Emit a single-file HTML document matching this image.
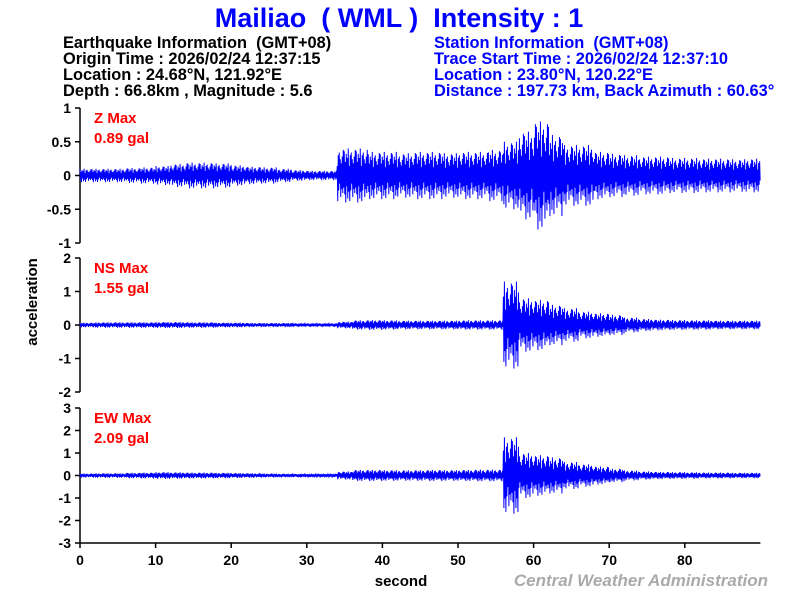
<!DOCTYPE html>
<html><head><meta charset="utf-8">
<style>
body{margin:0;background:#fff;}
svg{display:block;font-family:"Liberation Sans",Arial,sans-serif;}
svg text{white-space:pre;}
.tk{font-size:14px;font-weight:bold;fill:#000;}
.info{font-size:16.4px;font-weight:bold;}
</style></head>
<body>
<svg id="chart" width="800" height="600">
<text x="399" y="27" text-anchor="middle" font-size="27" font-weight="bold" fill="#0000ff">Mailiao  ( WML )  Intensity : 1</text>
<g class="info" fill="#000">
<text x="63" y="48">Earthquake Information  (GMT+08)</text>
<text x="63" y="64">Origin Time : 2026/02/24 12:37:15</text>
<text x="63" y="80">Location : 24.68°N, 121.92°E</text>
<text x="63" y="96">Depth : 66.8km , Magnitude : 5.6</text>
</g>
<g class="info" fill="#0000ff">
<text x="434" y="48">Station Information  (GMT+08)</text>
<text x="434" y="64">Trace Start Time : 2026/02/24 12:37:10</text>
<text x="434" y="80">Location : 23.80°N, 120.22°E</text>
<text x="434" y="96">Distance : 197.73 km, Back Azimuth : 60.63°</text>
</g>
<g id="plots"></g>
<text transform="translate(37,302) rotate(-90)" text-anchor="middle" font-size="15" font-weight="bold">acceleration</text>
<text x="401" y="586" text-anchor="middle" font-size="15" font-weight="bold">second</text>
<text x="768" y="586" text-anchor="end" font-size="17" font-weight="bold" font-style="italic" fill="#aaaaaa">Central Weather Administration</text>
</svg>
<script>
// envelope amplitudes (gal) per 2-second window starting at each time, 0..88 s
const times = [0,2,4,6,8,10,12,14,16,18,20,22,24,26,28,30,32,34,36,38,40,42,44,46,48,50,52,54,56,58,60,62,64,66,68,70,72,74,76,78,80,82,84,86,88];
const zEnv  = [0.1,0.1,0.1,0.11,0.12,0.14,0.17,0.19,0.19,0.18,0.15,0.13,0.12,0.1,0.08,0.07,0.07,0.4,0.4,0.35,0.35,0.33,0.35,0.35,0.33,0.35,0.35,0.38,0.5,0.65,0.8,0.6,0.45,0.45,0.35,0.32,0.3,0.28,0.28,0.26,0.26,0.25,0.25,0.24,0.25];
const nsEnv = [0.07,0.08,0.08,0.08,0.08,0.09,0.09,0.08,0.08,0.07,0.07,0.06,0.06,0.06,0.05,0.05,0.05,0.1,0.14,0.15,0.14,0.13,0.13,0.13,0.13,0.14,0.14,0.14,1.3,0.8,0.75,0.6,0.5,0.4,0.35,0.3,0.22,0.18,0.16,0.15,0.14,0.14,0.13,0.13,0.13];
const ewEnv = [0.09,0.1,0.1,0.12,0.13,0.15,0.14,0.13,0.13,0.12,0.11,0.1,0.09,0.08,0.07,0.06,0.06,0.18,0.25,0.25,0.24,0.23,0.24,0.25,0.24,0.25,0.26,0.26,1.7,1.0,0.9,0.8,0.6,0.5,0.4,0.3,0.22,0.18,0.16,0.15,0.14,0.13,0.13,0.12,0.12];
const zTicks = [1,0.5,0,-0.5,-1];
const nsTicks = [2,1,0,-1,-2];
const ewTicks = [3,2,1,0,-1,-2,-3];
const xTicks = [0,10,20,30,40,50,60,70,80];
const texture = [0.9,-0.7,0.5,-1.0,0.8,-0.4,0.65,-0.85,1.0,-0.6,0.35,-0.95,0.75,-0.55,0.85,-0.3,0.6,-0.8,0.45,-0.5,0.7,-0.65,0.95,-0.45];

const NS="http://www.w3.org/2000/svg";
const g=document.getElementById('plots');
const X0=80, PXS=7.56, TMAX=90;
function xs(t){return X0+t*PXS;}
function envAt(env,t){
  let i=Math.min(Math.floor(t/2),times.length-1);
  return env[i];
}
function mk(tag,attrs){const e=document.createElementNS(NS,tag);for(const k in attrs)e.setAttribute(k,attrs[k]);return e;}
const panels=[
 {env:zEnv,ticks:zTicks,top:108,bot:243,max:1,lab1:'Z Max',lab2:'0.89 gal',name:'z'},
 {env:nsEnv,ticks:nsTicks,top:258,bot:392,max:2,lab1:'NS Max',lab2:'1.55 gal',name:'ns'},
 {env:ewEnv,ticks:ewTicks,top:408,bot:543,max:3,lab1:'EW Max',lab2:'2.09 gal',name:'ew'}
];
panels.forEach(p=>{
  const mid=(p.top+p.bot)/2, sc=(p.bot-p.top)/(2*p.max);
  const ys=v=>mid-v*sc;
  const ax=mk('line',{x1:X0,y1:p.top,x2:X0,y2:p.bot,stroke:'#000','stroke-width':1.5});
  
  
  g.appendChild(ax);
  p.ticks.forEach(v=>{
    const tl=mk('line',{x1:X0-5,y1:ys(v),x2:X0,y2:ys(v),stroke:'#000','stroke-width':1.5});
    
    
    g.appendChild(tl);
    const tx=mk('text',{x:X0-9,y:ys(v)+5,'text-anchor':'end',class:'tk'});
    tx.textContent=v;
    
    
    g.appendChild(tx);
  });
  let pts=[];let k=0;
  for(let t=0;t<=90;t+=0.0662){
    const a=envAt(p.env,t)*texture[k%texture.length]; k++;
    pts.push(xs(t).toFixed(2)+','+ys(a).toFixed(2));
  }
  const pl=mk('polyline',{points:pts.join(' '),fill:'none',stroke:'#0000ff','stroke-width':1});
  
  
  g.appendChild(pl);
  const l1=mk('text',{x:94,y:p.top+15,'font-size':15,'font-weight':'bold',fill:'#ff0000'});
  l1.textContent=p.lab1;
  
  
  g.appendChild(l1);
  const l2=mk('text',{x:94,y:p.top+35,'font-size':15,'font-weight':'bold',fill:'#ff0000'});
  l2.textContent=p.lab2;
  
  
  g.appendChild(l2);
});
const xa=mk('line',{x1:X0,y1:543,x2:xs(TMAX),y2:543,stroke:'#000','stroke-width':1.5});


g.appendChild(xa);
xTicks.forEach(v=>{
  const tl=mk('line',{x1:xs(v),y1:543,x2:xs(v),y2:548,stroke:'#000','stroke-width':1.5});
  
  
  g.appendChild(tl);
  const tx=mk('text',{x:xs(v),y:565,'text-anchor':'middle',class:'tk'});
  tx.textContent=v;
  
  
  g.appendChild(tx);
});
</script>
</body></html>
